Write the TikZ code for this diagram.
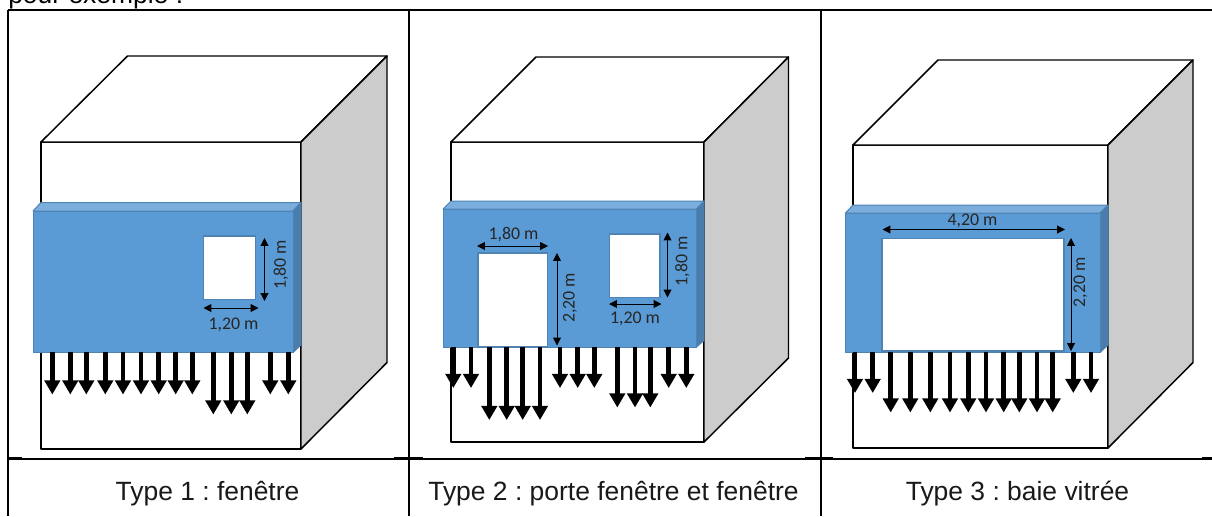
\documentclass[tikz,border=0pt]{standalone}
\usepackage{fontspec}
\usetikzlibrary{arrows.meta}
\setmainfont{Liberation Sans}
\newfontfamily\dimfont{Carlito}
\definecolor{slabfront}{HTML}{5B9BD5}
\definecolor{slabtop}{HTML}{7CAEDD}
\definecolor{slabside}{HTML}{4A7DAC}
\definecolor{slabedge}{HTML}{4F83B3}
\definecolor{wallgrey}{HTML}{CCCCCC}
\frenchspacing

\begin{document}
\begin{tikzpicture}[x=0.025cm, y=-0.025cm]
\tikzstyle{rule}=[black, line width=1.45pt]
\tikzstyle{thinrule}=[black, line width=0.75pt]
\tikzstyle{wall}=[black, line width=1.05pt, line join=round, fill=white]
\tikzstyle{sidewall}=[wall, fill=wallgrey]
\tikzstyle{front}=[fill=slabfront, draw=slabedge, line width=0.7pt, line join=round]
\tikzstyle{topface}=[fill=slabtop, draw=slabedge, line width=0.7pt, line join=round]
\tikzstyle{sideface}=[fill=slabside, draw=slabedge, line width=0.7pt, line join=round]
\tikzstyle{opening}=[fill=white, draw=slabedge, line width=1.1pt]
\tikzstyle{fall}=[black, line width=3.2pt, -{Triangle[width=10.8pt, length=10pt]}]
\tikzstyle{dim}=[black, line width=0.7pt, {Triangle[width=5.6pt, length=5.6pt]}-{Triangle[width=5.6pt, length=5.6pt]}]
\tikzstyle{dimlabel}=[font=\dimfont\fontsize{12.7pt}{14pt}\selectfont, text=black!85, inner sep=0pt]
\tikzstyle{caption}=[font=\fontsize{18.8pt}{22pt}\selectfont, text=black!90, inner sep=0pt, anchor=base]
\useasboundingbox (0,0) rectangle (1212,516);
\fill [white] (0,0) rectangle (1212,516);

% table
\node (intro) [font=\fontsize{18.8pt}{22pt}\selectfont, inner sep=0pt, anchor=base west] at (8,3) {pour exemple :};
\draw [rule] (8,10) -- (1212,10);
\draw [rule] (8,10) -- (8,516);
\draw [rule] (409,10) -- (409,516);
\draw [rule] (821,10) -- (821,516);
\draw [thinrule] (8,459) -- (1212,459);
\draw [rule] (8,458.5) -- (22,458.5);
\draw [rule] (394,458.5) -- (423,458.5);
\draw [rule] (805,458.5) -- (833,458.5);
\draw [rule] (1202,458.5) -- (1212,458.5);
\node (cap1) [caption] at (207.5,500) {Type 1 : fenêtre};
\node (cap2) [caption] at (613.5,500) {Type 2 : porte fenêtre et fenêtre};
\node (cap3) [caption] at (1017.5,500) {Type 3 : baie vitrée};

% type 1
\draw [wall] (41,142) rectangle (301,449);
\draw [wall] (41,142) -- (127.5,56) -- (387,56) -- (301,142) -- cycle;
\draw [sidewall] (301,142) -- (387,56) -- (387,362.5) -- (301,449) -- cycle;
\draw [topface] (33,211) -- (41,202.5) -- (301,202.5) -- (293,211) -- cycle;
\draw [sideface] (293,211) -- (301,202.5) -- (301,345) -- (293,352.5) -- cycle;
\draw [front] (33,211) rectangle (293,352.5);
\draw [opening] (203.5,236) rectangle (255.5,299.5);
\draw [dim] (264.5,238) -- (264.5,301);
\draw [dim] (203.5,308) -- (258.5,308);
\node (h1) [dimlabel, rotate=90] at (281,265) {1,80 m};
\node (w1) [dimlabel] at (233.5,324.5) {1,20 m};
\foreach \x in {52.3,70.3,86.3,105.3,123,141,158.7,175.7,192.3,270.3,288.3}
  \draw [fall] (\x,352) -- (\x,394.5);
\foreach \x in {213.3,231.3,247.3}
  \draw [fall] (\x,352) -- (\x,414.5);

% type 2
\draw [wall] (451,142) rectangle (704,442);
\draw [wall] (451,142) -- (536,57) -- (788.5,57) -- (704,142) -- cycle;
\draw [sidewall] (704,142) -- (788.5,57) -- (788.5,358) -- (704,442) -- cycle;
\draw [topface] (443,209) -- (451,201) -- (704,201) -- (696.5,209) -- cycle;
\draw [sideface] (696.5,209) -- (704,201) -- (704,340.5) -- (696.5,347) -- cycle;
\draw [front] (443,209) rectangle (696.5,347);
\draw [opening] (478,253) rectangle (547.5,346.5);
\draw [opening] (609.5,234) rectangle (660,297.5);
\draw [dim] (477,246) -- (548,246);
\draw [dim] (557,253) -- (557,345.5);
\draw [dim] (667.5,232.5) -- (667.5,297.5);
\draw [dim] (609,304) -- (661.5,304);
\node (w2) [dimlabel] at (513.5,234.5) {1,80 m};
\node (h2) [dimlabel, rotate=90] at (570,298) {2,20 m};
\node (h3) [dimlabel, rotate=90] at (682.5,261.5) {1,80 m};
\node (w3) [dimlabel] at (635,318.5) {1,20 m};
\foreach \x in {453.3,471,560,577.7,594.3,668.7,686.3}
  \draw [fall] (\x,347) -- (\x,388);
\foreach \x in {489.3,506.7,522.7,540}
  \draw [fall] (\x,347) -- (\x,420);
\foreach \x in {617.3,635,650.3}
  \draw [fall] (\x,347) -- (\x,407.5);

% type 3
\draw [wall] (853,145) rectangle (1108,448);
\draw [wall] (853,145) -- (938,60) -- (1193,60) -- (1108,145) -- cycle;
\draw [sidewall] (1108,145) -- (1193,60) -- (1193,362.5) -- (1108,448) -- cycle;
\draw [topface] (845.5,213) -- (853,205) -- (1108,205) -- (1100,213) -- cycle;
\draw [sideface] (1100,213) -- (1108,205) -- (1108,345) -- (1100,352.5) -- cycle;
\draw [front] (845.5,213) rectangle (1100,352.5);
\draw [opening] (882,238.5) rectangle (1064,351);
\draw [dim] (882.5,229.5) -- (1065,229.5);
\draw [dim] (1071,238) -- (1071,351);
\node (w4) [dimlabel] at (972.5,220.5) {4,20 m};
\node (h4) [dimlabel, rotate=90] at (1080.5,282.5) {2,20 m};
\foreach \x in {855,872.7,1073.3,1091}
  \draw [fall] (\x,352) -- (\x,393);
\foreach \x in {890.7,910.3,930.3,950,968.3,986,1003.7,1019.3,1037,1052.7}
  \draw [fall] (\x,352) -- (\x,412.5);
\end{tikzpicture}
\end{document}
